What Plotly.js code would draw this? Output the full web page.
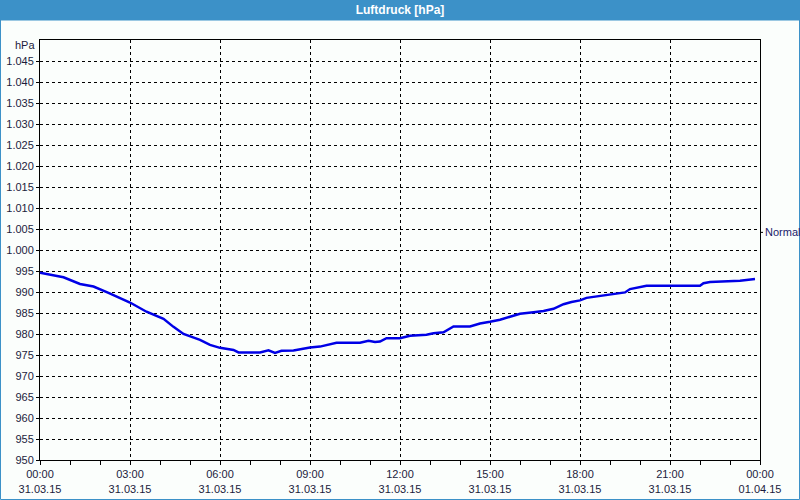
<!DOCTYPE html>
<html>
<head>
<meta charset="utf-8">
<script src="https://cdn.plot.ly/plotly-3.0.1.min.js"></script>
<style>
html,body{margin:0;padding:0;background:#fbfefc;}
#chart{width:800px;height:500px;}
</style>
</head>
<body>
<div id="chart"></div>
<script>
// ---- data ----
const times = [
 "2015-03-31 00:00","2015-03-31 00:47","2015-03-31 01:20","2015-03-31 01:47","2015-03-31 02:17",
 "2015-03-31 03:00","2015-03-31 03:33","2015-03-31 04:07","2015-03-31 04:27","2015-03-31 04:47",
 "2015-03-31 05:20","2015-03-31 05:40","2015-03-31 06:00","2015-03-31 06:27","2015-03-31 06:37",
 "2015-03-31 07:20","2015-03-31 07:37","2015-03-31 07:50","2015-03-31 08:03","2015-03-31 08:27",
 "2015-03-31 09:00","2015-03-31 09:20","2015-03-31 09:53","2015-03-31 10:40","2015-03-31 10:57",
 "2015-03-31 11:10","2015-03-31 11:20","2015-03-31 11:33","2015-03-31 12:00","2015-03-31 12:20",
 "2015-03-31 12:53","2015-03-31 13:07","2015-03-31 13:27","2015-03-31 13:47","2015-03-31 14:20",
 "2015-03-31 14:40","2015-03-31 15:00","2015-03-31 15:20","2015-03-31 15:40","2015-03-31 16:00",
 "2015-03-31 16:27","2015-03-31 16:47","2015-03-31 17:07","2015-03-31 17:27","2015-03-31 17:43",
 "2015-03-31 18:00","2015-03-31 18:13","2015-03-31 18:40","2015-03-31 19:13","2015-03-31 19:30",
 "2015-03-31 19:40","2015-03-31 20:00","2015-03-31 20:13","2015-03-31 22:00","2015-03-31 22:07",
 "2015-03-31 22:20","2015-03-31 23:07","2015-03-31 23:20","2015-03-31 23:50"
];
const pressure = [
 994.6,993.5,991.9,991.3,989.8,
 987.5,985.3,983.6,981.7,980.0,
 978.6,977.4,976.7,976.2,975.6,
 975.6,976.1,975.5,976.0,976.1,
 976.8,977.0,977.9,977.9,978.4,
 978.1,978.2,979.0,979.0,979.6,
 979.8,980.2,980.4,981.8,981.8,
 982.5,982.9,983.4,984.1,984.8,
 985.2,985.5,986.0,987.1,987.6,
 988.0,988.6,989.0,989.6,989.9,
 990.7,991.1,991.5,991.5,992.1,
 992.4,992.5,992.7,993.1
];
const xTickVals = ["2015-03-31 00:00","2015-03-31 03:00","2015-03-31 06:00","2015-03-31 09:00",
 "2015-03-31 12:00","2015-03-31 15:00","2015-03-31 18:00","2015-03-31 21:00","2015-04-01 00:00"];
const xTickText = ["00:00<br>31.03.15","03:00<br>31.03.15","06:00<br>31.03.15","09:00<br>31.03.15",
 "12:00<br>31.03.15","15:00<br>31.03.15","18:00<br>31.03.15","21:00<br>31.03.15","00:00<br>01.04.15"];
const yTickVals = [950,955,960,965,970,975,980,985,990,995,1000,1005,1010,1015,1020,1025,1030,1035,1040,1045];
const yTickText = ["950","955","960","965","970","975","980","985","990","995","1.000","1.005","1.010","1.015","1.020","1.025","1.030","1.035","1.040","1.045"];
const normalLevel = 1004.2;
const chartTitle = "Luftdruck [hPa]";
const unitLabel = "hPa";

// ---- layout ----
const W = 800, H = 500, L = 40, R = 40, T = 40, B = 40;
const pw = W - L - R, ph = H - T - B;
const px = v => (v - L) / pw;          // pixel x -> paper
const py = v => (H - B - v) / ph;      // pixel y -> paper
const font = {family: "Liberation Sans, Arial, sans-serif", size: 11, color: "#1c1c3c"};

const trace = {
  x: times, y: pressure, type: "scatter", mode: "lines",
  line: {color: "#0000e6", width: 2.5}, hoverinfo: "skip", showlegend: false
};

const layout = {
  width: W, height: H,
  margin: {l: L, r: R, t: T, b: B, pad: 0},
  paper_bgcolor: "#fbfefc", plot_bgcolor: "#fbfefc",
  font: font,
  title: {text: "<b>" + chartTitle + "</b>", x: 0.5, xanchor: "center", y: 1 - 10 / H, yanchor: "middle",
          xref: "container", yref: "container", font: {family: "Liberation Sans, Arial, sans-serif", size: 12, color: "#ffffff"}},
  xaxis: {
    type: "date", range: ["2015-03-31 00:00", "2015-04-01 00:00"],
    tickmode: "array", tickvals: xTickVals, ticktext: xTickText,
    ticks: "outside", ticklen: 4, tickcolor: "#000", tickwidth: 1,
    showgrid: true, gridcolor: "#000000", gridwidth: 1, griddash: "3px,3px",
    showline: true, linecolor: "#000", linewidth: 1, mirror: true,
    zeroline: false, fixedrange: true,
    minor: {tickmode: "linear", tick0: "2015-03-31 00:00", dtick: 3600000, ticks: "outside", ticklen: 4, tickcolor: "#000", showgrid: false},
    tickfont: font
  },
  yaxis: {
    range: [950, 1050], tickmode: "array", tickvals: yTickVals, ticktext: yTickText,
    ticks: "outside", ticklen: 3, tickcolor: "#000",
    showgrid: true, gridcolor: "#000000", gridwidth: 1, griddash: "3px,3px",
    showline: true, linecolor: "#000", linewidth: 1, mirror: true,
    zeroline: false, fixedrange: true, tickfont: font
  },
  shapes: [
    {type: "rect", xref: "paper", yref: "paper", x0: px(0), x1: px(W), y0: py(0), y1: py(20),
     fillcolor: "#3c91c8", line: {width: 0}, layer: "below"},
    {type: "rect", xref: "paper", yref: "paper", x0: px(0.5), x1: px(W - 0.5), y0: py(H - 0.5), y1: py(20),
     fillcolor: "rgba(0,0,0,0)", line: {color: "#3c91c8", width: 1}},
    {type: "line", xref: "paper", yref: "y", x0: 1, x1: px(L + pw + 3), y0: normalLevel, y1: normalLevel,
     line: {color: "#000", width: 1}}
  ],
  annotations: [
    {text: unitLabel, xref: "paper", yref: "paper", x: 0, y: py(45.5), xanchor: "right", yanchor: "middle",
     xshift: -3, showarrow: false, font: font},
    {text: "Normal", xref: "paper", yref: "y", x: 1, y: normalLevel, xanchor: "left", yanchor: "middle",
     xshift: 3, showarrow: false, font: {family: font.family, size: 11, color: "#1a1a6a"}}
  ]
};

Plotly.newPlot("chart", [trace], layout, {displayModeBar: false, staticPlot: true});
</script>
</body>
</html>
